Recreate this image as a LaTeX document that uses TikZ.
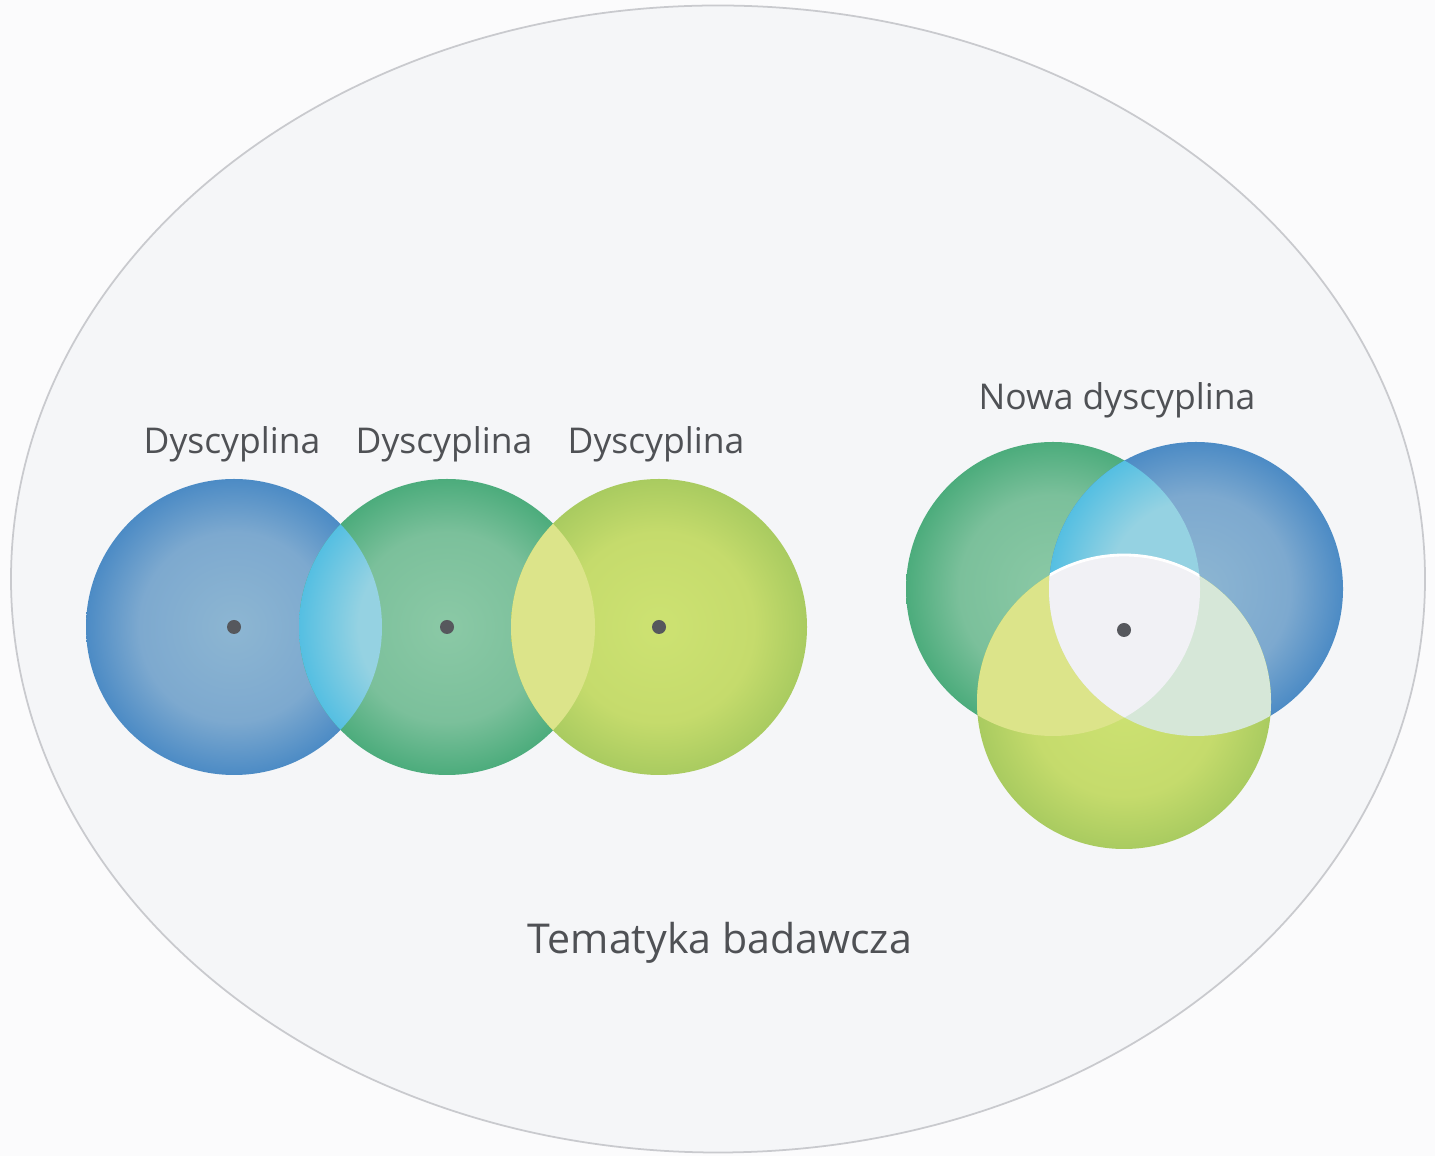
\documentclass[tikz,border=0pt]{standalone}
\usepackage{fontspec}
\setmainfont{Open Sans}

\definecolor{pagebg}{HTML}{FBFBFC}
\definecolor{fieldbg}{HTML}{F5F6F8}
\definecolor{fieldline}{HTML}{C9CACE}
\definecolor{textgray}{HTML}{4F5155}
\definecolor{dotgray}{HTML}{56585D}
\definecolor{blueA}{HTML}{8DB6D2}
\definecolor{blueB}{HTML}{7DA9CF}
\definecolor{blueC}{HTML}{4C8BC5}
\definecolor{greenA}{HTML}{8BC9A6}
\definecolor{greenB}{HTML}{7BC09B}
\definecolor{greenC}{HTML}{4CAC7C}
\definecolor{limeA}{HTML}{CDE272}
\definecolor{limeB}{HTML}{C5DB6C}
\definecolor{limeC}{HTML}{A9CB60}
\definecolor{cyanA}{HTML}{95D2E2}
\definecolor{cyanC}{HTML}{55BFE2}
\definecolor{paleyellow}{HTML}{DCE48A}
\definecolor{palegreen}{HTML}{D6E7D8}
\definecolor{coreA}{HTML}{F1F1F5}

% shapes fill the central 50bp of the shading, so the rim sits at 25bp
\pgfdeclareradialshading{blueball}{\pgfpoint{0bp}{0bp}}{color(0bp)=(blueA); color(16bp)=(blueB); color(25bp)=(blueC); color(50bp)=(blueC)}
\pgfdeclareradialshading{greenball}{\pgfpoint{0bp}{0bp}}{color(0bp)=(greenA); color(16bp)=(greenB); color(25bp)=(greenC); color(50bp)=(greenC)}
\pgfdeclareradialshading{limeball}{\pgfpoint{0bp}{0bp}}{color(0bp)=(limeA); color(16bp)=(limeB); color(25bp)=(limeC); color(50bp)=(limeC)}
\pgfdeclareradialshading{cyanlens}{\pgfpoint{0bp}{0bp}}{color(0bp)=(cyanA); color(15bp)=(cyanA); color(25bp)=(cyanC); color(50bp)=(cyanC)}

\tikzset{
  label/.style={text=textgray, font=\fontsize{10.1}{12}\selectfont, inner sep=0pt},
  dot/.style={fill=dotgray},
}

\begin{document}
\begin{tikzpicture}[x=1cm,y=-1cm]
	% background and research field
	\fill[pagebg] (0,0) rectangle (14.35,11.56);
	\filldraw[fill=fieldbg, draw=fieldline, line width=0.5pt] (7.18,5.79) ellipse [x radius=7.07, y radius=5.735];

	% three separate disciplines
	\coordinate (d1) at (2.34,6.27);
	\coordinate (d2) at (4.47,6.27);
	\coordinate (d3) at (6.59,6.27);
	\shade[shading=blueball] (d1) circle[radius=1.48];
	\shade[shading=greenball] (d2) circle[radius=1.48];
	\shade[shading=limeball] (d3) circle[radius=1.48];
	\begin{scope}
		\clip (d1) circle[radius=1.48];
		\shade[shading=cyanlens] (d2) circle[radius=1.48];
	\end{scope}
	\begin{scope}
		\clip (d2) circle[radius=1.48];
		\fill[paleyellow] (d3) circle[radius=1.48];
	\end{scope}
	\fill[dot] (d1) circle[radius=0.07];
	\fill[dot] (d2) circle[radius=0.07];
	\fill[dot] (d3) circle[radius=0.07];
	\node[label] (lab1) at (2.32,4.44) {Dyscyplina};
	\node[label] (lab2) at (4.44,4.44) {Dyscyplina};
	\node[label] (lab3) at (6.56,4.44) {Dyscyplina};

	% new discipline
	\coordinate (ng) at (10.53,5.89);
	\coordinate (nb) at (11.96,5.89);
	\coordinate (nl) at (11.24,7.02);
	\coordinate (nc) at (11.24,6.30);
	\shade[shading=greenball] (ng) circle[radius=1.47];
	\shade[shading=blueball] (nb) circle[radius=1.47];
	\shade[shading=limeball] (nl) circle[radius=1.47];
	\begin{scope}
		\clip (ng) circle[radius=1.47];
		\shade[shading=cyanlens] (nb) circle[radius=1.47];
	\end{scope}
	\begin{scope}
		\clip (ng) circle[radius=1.47];
		\fill[paleyellow] (nl) circle[radius=1.47];
	\end{scope}
	\begin{scope}
		\clip (nb) circle[radius=1.47];
		\fill[palegreen] (nl) circle[radius=1.47];
	\end{scope}
	\begin{scope}
		\clip (ng) circle[radius=1.47];
		\clip (nb) circle[radius=1.47];
		\filldraw[fill=coreA, draw=white, line width=0.8pt] (nl) circle[radius=1.47];
	\end{scope}
	\fill[dot] (nc) circle[radius=0.07];
	\node[label] (labnew) at (11.17,4.00) {Nowa dyscyplina};

	\node[label, font=\fontsize{11.7}{14}\selectfont] (topic) at (7.20,9.43) {Tematyka badawcza};
\end{tikzpicture}
\end{document}
